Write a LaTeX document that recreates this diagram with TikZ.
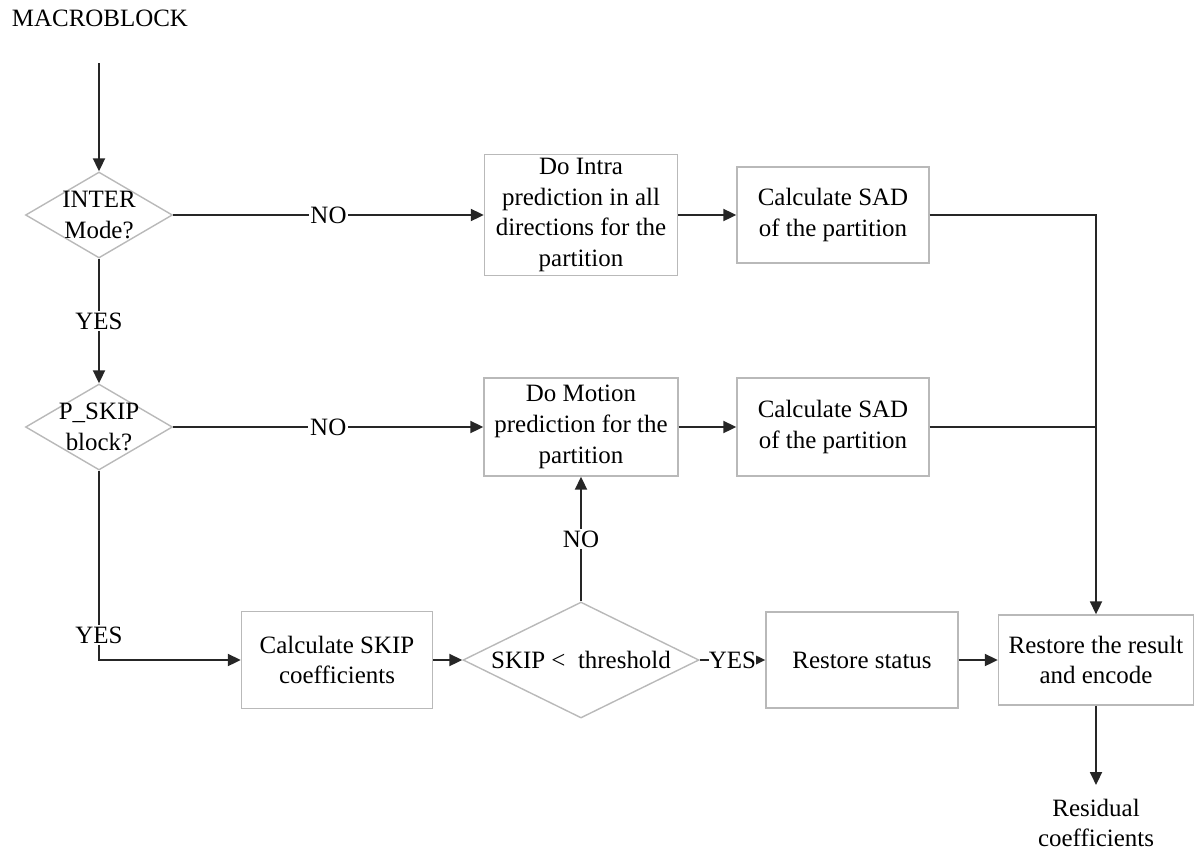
\documentclass[tikz,border=0pt]{standalone}
\usepackage{fontspec}
\setmainfont{Liberation Serif}
\usetikzlibrary{shapes.geometric,arrows.meta}

\begin{document}
\begin{tikzpicture}[x=0.02cm, y=-0.02cm,
  font=\fontsize{14.2}{17.5}\selectfont,
  box/.style={draw=gray!55, line width=0.8pt, align=center, inner sep=2pt},
  dec/.style={draw=gray!55, line width=0.8pt, diamond, inner sep=0pt},
  lbl/.style={fill=white, inner sep=1pt},
  lin/.style={draw=black!85, line width=1.1pt},
  arr/.style={lin, -{Triangle[length=0.26cm,width=0.24cm]}},
]
\useasboundingbox (0,0) rectangle (1195,859);
% --- input ---
\node (mb) at (100,18) {MACROBLOCK};
\coordinate (mbout) at (99,63);
% --- decisions (left column) ---
\node[dec, minimum width=2.94cm, minimum height=1.72cm,
      label={[align=center]center:INTER\\Mode?}] (d1) at (99,215) {};
\node[dec, minimum width=2.94cm, minimum height=1.72cm,
      label={[align=center]center:P\_SKIP\\block?}] (d2) at (99,427) {};
% --- intra row ---
\node[box, minimum width=3.86cm, minimum height=2.4cm] (bIntra) at (581,215)
  {Do Intra\\prediction in all\\directions for the\\partition};
\node[box, minimum width=3.84cm, minimum height=1.92cm] (bSad1) at (833,215)
  {Calculate SAD\\of the partition};
% --- motion row ---
\node[box, minimum width=3.88cm, minimum height=1.96cm] (bMot) at (581,427)
  {Do Motion\\prediction for the\\partition};
\node[box, minimum width=3.84cm, minimum height=1.96cm] (bSad2) at (833,427)
  {Calculate SAD\\of the partition};
% --- skip row ---
\node[box, minimum width=3.82cm, minimum height=1.94cm] (bSkip) at (337,660)
  {Calculate SKIP\\coefficients};
\node[dec, minimum width=4.72cm, minimum height=2.32cm,
      label={center:SKIP <\ \ threshold}] (d3) at (581,660) {};
\node[box, minimum width=3.84cm, minimum height=1.92cm] (bStat) at (862,660)
  {Restore status};
\node[box, minimum width=3.9cm, minimum height=1.8cm] (bRes) at (1096,660)
  {Restore the result\\and encode};
% --- output ---
\coordinate (resout) at (1096,785);
\node[align=center] (res) at (1096,823) {Residual\\coefficients};
% --- connectors ---
\draw[arr] (mbout) -- (d1);
\draw[arr] (d1) -- node[lbl] {NO} (bIntra);
\draw[arr] (bIntra) -- (bSad1);
\draw[arr] (bSad1.east) -| (bRes.north);
\draw[arr] (d1) -- node[lbl] {YES} (d2);
\draw[arr] (d2) -- node[lbl] {NO} (bMot);
\draw[arr] (bMot) -- (bSad2);
\draw[lin] (bSad2.east) -- (bSad2.east -| bRes.north);
\draw[arr] (d2.south) |- node[lbl, pos=0.434] {YES} (bSkip.west);
\draw[arr] (bSkip) -- (d3);
\draw[arr] (d3) -- node[lbl] {NO} (bMot);
\draw[arr] (d3) -- node[lbl, inner sep=0pt] {YES} (bStat);
\draw[arr] (bStat) -- (bRes);
\draw[arr] (bRes) -- (resout);
\end{tikzpicture}
\end{document}
